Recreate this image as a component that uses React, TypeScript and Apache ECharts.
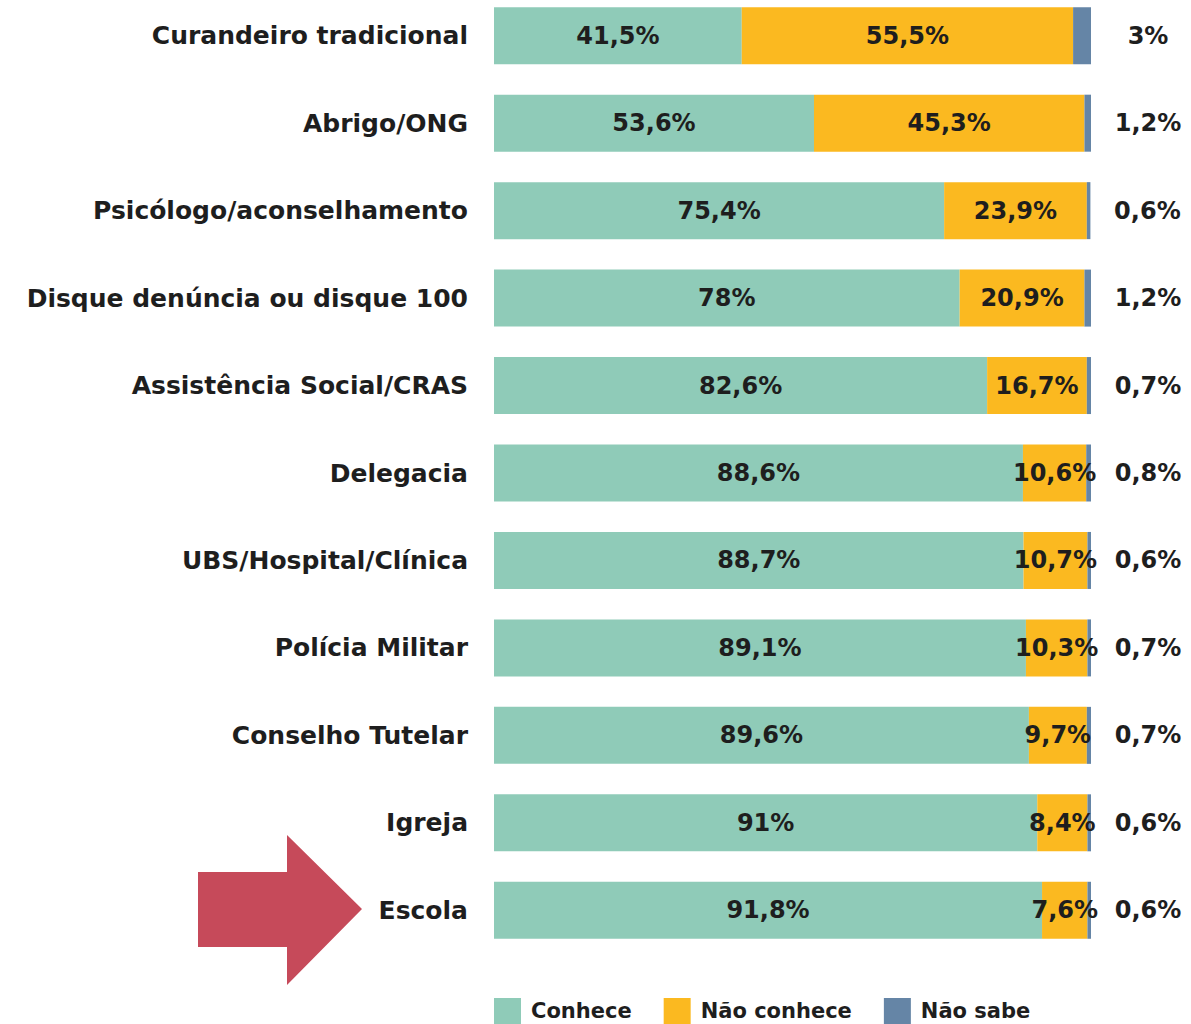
import React, { useEffect, useRef } from "react";
import * as echarts from "echarts";

const categories = [
  "Curandeiro tradicional",
  "Abrigo/ONG",
  "Psicólogo/aconselhamento",
  "Disque denúncia ou disque 100",
  "Assistência Social/CRAS",
  "Delegacia",
  "UBS/Hospital/Clínica",
  "Polícia Militar",
  "Conselho Tutelar",
  "Igreja",
  "Escola",
];
const conhece = [41.5, 53.6, 75.4, 78, 82.6, 88.6, 88.7, 89.1, 89.6, 91, 91.8];
const naoConhece = [55.5, 45.3, 23.9, 20.9, 16.7, 10.6, 10.7, 10.3, 9.7, 8.4, 7.6];
const naoSabe = [3, 1.2, 0.6, 1.2, 0.7, 0.8, 0.6, 0.7, 0.7, 0.6, 0.6];
const seriesNames = ["Conhece", "Não conhece", "Não sabe"];

const COLORS = ["#8fcbb8", "#fbb920", "#6585a6"];
const FONT = "DejaVu Sans";
const TEXT = "#1e1e1e";
const SHIFT = 8; // chart container is shifted up by this many px

const fmt = (p: any) => `${String(p.value).replace(".", ",")}%`;

export default function App() {
  const ref = useRef<HTMLDivElement>(null);
  useEffect(() => {
    document.body.style.margin = "0";
    document.body.style.overflow = "hidden";
    if (!ref.current) return;
    const chart = echarts.init(ref.current, undefined, { renderer: "svg" });
    const insideLabel = {
      show: true,
      position: "inside",
      formatter: fmt,
      color: TEXT,
      fontFamily: FONT,
      fontSize: 24,
      fontWeight: "bold",
    };
    chart.setOption({
      animation: false,
      backgroundColor: "#ffffff",
      color: COLORS,
      grid: { left: 494, right: 100, top: 0, bottom: 70, containLabel: false },
      xAxis: {
        type: "value",
        min: 0,
        max: 100,
        show: false,
      },
      yAxis: {
        type: "category",
        data: categories,
        inverse: true,
        axisLine: { show: false },
        axisTick: { show: false },
        splitLine: { show: false },
        axisLabel: {
          margin: 26,
          color: TEXT,
          fontFamily: FONT,
          fontSize: 25,
          fontWeight: "bold",
        },
      },
      legend: {
        left: 494,
        top: 998 + SHIFT,
        padding: 0,
        itemWidth: 27,
        itemHeight: 26,
        itemGap: 32,
        icon: "rect",
        data: seriesNames,
        textStyle: {
          color: TEXT,
          fontFamily: FONT,
          fontSize: 21,
          fontWeight: "bold",
          padding: [0, 0, 0, 5],
        },
      },
      series: [
        {
          name: seriesNames[0],
          type: "bar",
          stack: "total",
          barWidth: 57,
          data: conhece,
          label: insideLabel,
        },
        {
          name: seriesNames[1],
          type: "bar",
          stack: "total",
          barWidth: 57,
          data: naoConhece,
          label: insideLabel,
        },
        {
          name: seriesNames[2],
          type: "bar",
          stack: "total",
          barWidth: 57,
          data: naoSabe,
          label: {
            show: true,
            position: "right",
            distance: 57,
            align: "center",
            formatter: fmt,
            color: TEXT,
            fontFamily: FONT,
            fontSize: 24,
            fontWeight: "bold",
          },
        },
      ],
      graphic: [
        {
          type: "polygon",
          shape: {
            points: [
              [198, 872 + SHIFT],
              [287, 872 + SHIFT],
              [287, 835 + SHIFT],
              [362, 909 + SHIFT],
              [287, 985 + SHIFT],
              [287, 947 + SHIFT],
              [198, 947 + SHIFT],
            ],
          },
          style: { fill: "#c64a5a" },
        },
      ],
    });
    return () => chart.dispose();
  }, []);
  return (
    <div
      ref={ref}
      style={{ position: "absolute", left: 0, top: -SHIFT, width: 1191, height: 1024 + SHIFT }}
    />
  );
}
